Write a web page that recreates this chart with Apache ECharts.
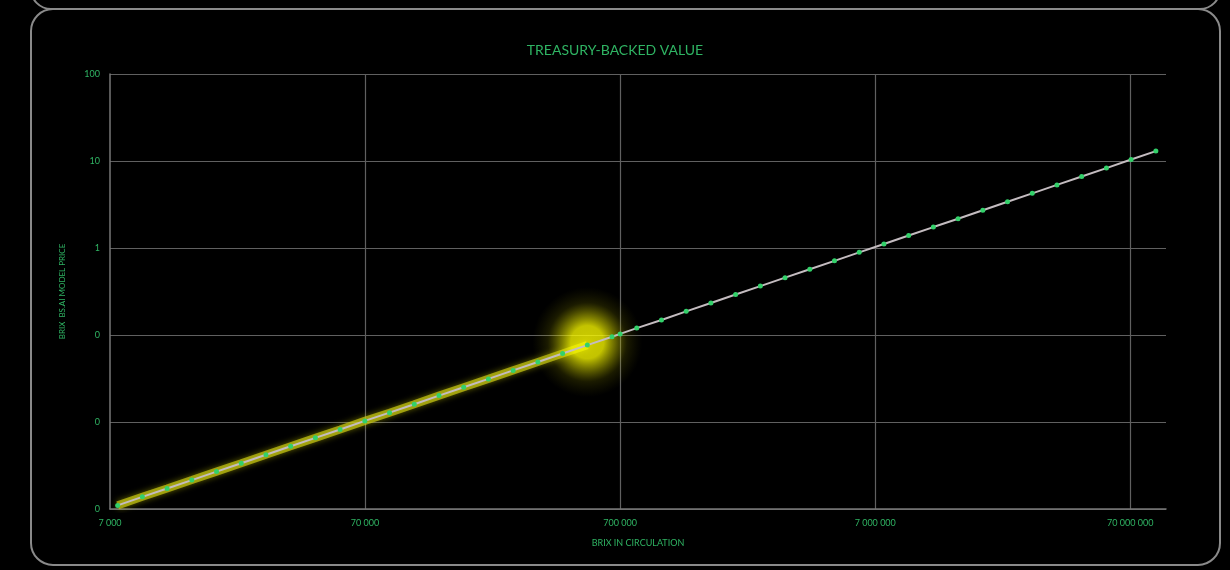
<!DOCTYPE html>
<html>
<head>
<meta charset="utf-8">
<script src="https://cdn.jsdelivr.net/npm/echarts@6/dist/echarts.min.js"></script>
<style>
html,body{margin:0;padding:0;background:#000;}
#c{width:1230px;height:570px;}
</style>
</head>
<body>
<div id="c"></div>
<script>
// BRIX in circulation (supply) and model price
const supply = [7500, 9375, 11719, 14648, 18311, 22888, 28610, 35763, 44703, 55879,
  69849, 87311, 109139, 136424, 170530, 213163, 266453, 333067, 416333, 520417,
  650521, 700000, 813152, 1016439, 1270549, 1588187, 1985233, 2481541, 3101927, 3877409,
  4846761, 6058451, 7573064, 9466330, 11832912, 14791140, 18488925, 23111157, 28888946, 36111182,
  45138978, 56423722, 70529653, 88162066];
const price = [0.00110, 0.00138, 0.00172, 0.00215, 0.00269, 0.00336, 0.00421, 0.00526, 0.00657, 0.00821,
  0.0103, 0.0128, 0.0160, 0.0201, 0.0251, 0.0313, 0.0392, 0.0490, 0.0612, 0.0765,
  0.0956, 0.103, 0.120, 0.149, 0.187, 0.233, 0.292, 0.365, 0.456, 0.570,
  0.712, 0.891, 1.11, 1.39, 1.74, 2.17, 2.72, 3.40, 4.25, 5.31,
  6.64, 8.29, 10.4, 13.0];
// highlighted (current) segment ends at this supply
const highlightEnd = 520417;
const xBase = 7000;          // first x tick label
const xTickLabels = ['7 000', '70 000', '700 000', '7 000 000', '70 000 000'];
const yTickLabels = ['0', '0', '0', '1', '10', '100'];
const yTickValues = [0.001, 0.01, 0.1, 1, 10, 100];

const toX = s => Math.log10(s / xBase);
const allPts = supply.map((s, i) => [toX(s), price[i]]);
const hiPts = supply.map((s, i) => [toX(s), price[i]]).filter((p, i) => supply[i] <= highlightEnd);
const glowIdx = supply.indexOf(highlightEnd);

const green = '#2fb463';
const font = 'Lato, "Open Sans", sans-serif';

const chart = echarts.init(document.getElementById('c'));
chart.setOption({
  backgroundColor: '#000',
  animation: false,
  title: {
    text: 'TREASURY-BACKED VALUE',
    left: 'center', top: 38,
    textStyle: {color: green, fontSize: 14, fontWeight: 'normal', fontFamily: font}
  },
  graphic: [
    {type: 'rect', shape: {x: 31, y: -200, width: 1189, height: 209, r: 20},
     style: {fill: 'none', stroke: '#8a8a8a', lineWidth: 2}, silent: true, z: -1},
    {type: 'rect', shape: {x: 31, y: 9, width: 1189, height: 556, r: 22},
     style: {fill: 'none', stroke: '#8a8a8a', lineWidth: 2}, silent: true, z: -1}
  ],
  grid: {left: 110, right: 64, top: 74, bottom: 61, containLabel: false},
  xAxis: {
    type: 'value', min: 0, max: 4.14, interval: 1,
    name: 'BRIX IN CIRCULATION', nameLocation: 'middle', nameGap: 30,
    nameTextStyle: {color: green, fontSize: 9, fontFamily: font},
    axisLine: {show: true, lineStyle: {color: '#777', width: 1.5}},
    axisTick: {show: false},
    axisLabel: {color: green, fontSize: 9, fontFamily: font, margin: 10, showMaxLabel: false,
      formatter: v => { const k = Math.round(v); return (Math.abs(v - k) < 1e-6 && xTickLabels[k]) ? xTickLabels[k] : ''; }},
    splitLine: {show: true, showMinLine: false, showMaxLine: false, lineStyle: {color: '#606060', width: 1.2}}
  },
  yAxis: {
    type: 'log', logBase: 10, min: 0.001, max: 100,
    name: 'BRIX  BS.AI MODEL PRICE', nameLocation: 'middle', nameGap: 44,
    nameTextStyle: {color: green, fontSize: 8, fontFamily: font},
    axisLine: {show: true, lineStyle: {color: '#777', width: 1.5}},
    axisTick: {show: false},
    axisLabel: {color: green, fontSize: 9, fontFamily: font, margin: 10,
      formatter: v => { const i = yTickValues.findIndex(t => Math.abs(Math.log10(t) - Math.log10(v)) < 1e-6); return i >= 0 ? yTickLabels[i] : ''; }},
    splitLine: {show: true, lineStyle: {color: '#606060', width: 1.2}}
  },
  series: [
    {
      type: 'line', data: hiPts, symbol: 'none', z: 1, silent: true,
      lineStyle: {color: 'rgba(200,200,20,0.72)', width: 8, shadowBlur: 6, shadowColor: 'rgba(220,220,0,0.6)'}
    },
    {
      type: 'scatter', data: [allPts[glowIdx]], symbolSize: 110, z: 2, silent: true,
      symbolOffset: [0, -3],
      itemStyle: {color: {type: 'radial', x: 0.5, y: 0.5, r: 0.5, colorStops: [
        {offset: 0, color: 'rgba(255,255,0,1)'},
        {offset: 0.3, color: 'rgba(252,252,0,0.97)'},
        {offset: 0.5, color: 'rgba(220,220,0,0.6)'},
        {offset: 0.72, color: 'rgba(170,170,0,0.2)'},
        {offset: 1, color: 'rgba(120,120,0,0)'}]}}
    },
    {
      type: 'line', data: allPts, z: 3, silent: true,
      symbol: 'circle', symbolSize: 5, showAllSymbol: true,
      lineStyle: {color: '#c4bcc0', width: 2},
      itemStyle: {color: '#33d16a', borderWidth: 0}
    }
  ]
});
</script>
</body>
</html>
